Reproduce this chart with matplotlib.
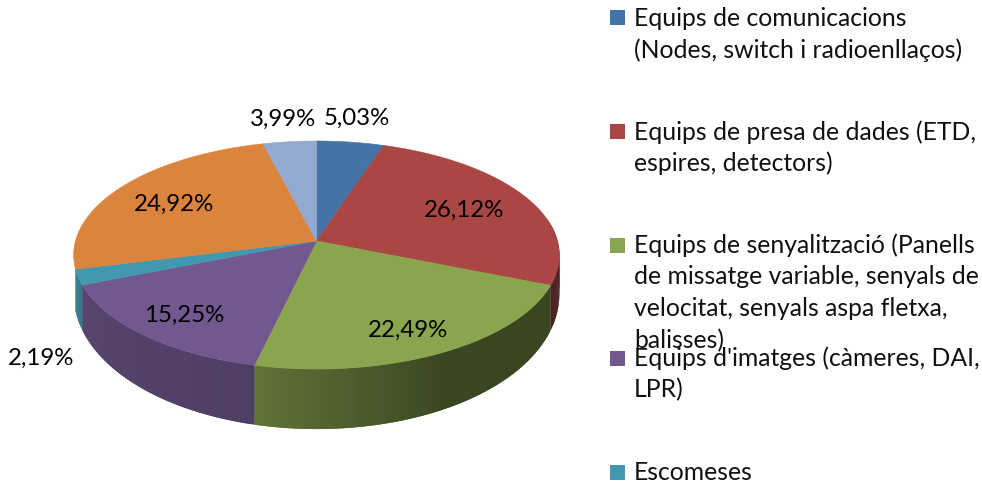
import numpy as np
import matplotlib
matplotlib.use('Agg')
import matplotlib.pyplot as plt
from matplotlib.collections import PolyCollection
from matplotlib.colors import to_rgb

plt.rcParams['font.family'] = ['Lato', 'DejaVu Sans']

# Values of the pie, clockwise from the top
values = [5.03, 26.12, 22.49, 15.25, 2.19, 24.92, 3.99]
colors = ['#4573a7', '#aa4644', '#89a54e', '#71588f', '#4198af', '#db843d', '#93a9cf']
label_x = [357, 464, 408, 184, 41, 174, 283]
label_y = [118, 210, 330, 315, 358, 204, 119]

# Legend lines, the original legend overflows its box so lines collide
legend_lines = [
    ['Equips de comunicacions', '(Nodes, switch i radioenllaços)'],
    ['Equips de presa de dades (ETD,', 'espires, detectors)'],
    ['Equips de senyalització (Panells', 'de missatge variable, senyals de',
     'velocitat, senyals aspa fletxa,', 'balisses)'],
    ["Equips d'imatges (càmeres, DAI,", 'LPR)'],
    ['Escomeses'],
]
legend_colors = colors[:5]
legend_y = [17, 131, 245, 358, 472]
line_y = [[18, 50], [132, 163], [245, 276, 309, 341], [358, 390], [472]]

# Perspective of the 3D pie, in pixels
cx, cy = 316.5, 241
bx, by, k = 241, 112.3, 0.123


def project(theta):
    # theta in degrees, clockwise from the top
    t = np.radians(theta)
    u, v = np.sin(t), np.cos(t)
    w = 1 + k * v
    return cx + bx * u / w, cy - by * v / w, v


def depth(v):
    return 36 - 24 * v


def shade(theta):
    return np.interp(theta, [90, 150, 193, 260, 290], [0.42, 0.42, 0.70, 0.80, 0.85])


fig = plt.figure(figsize=(9.82, 4.83), dpi=100)
ax = fig.add_axes([0, 0, 1, 1])
ax.set_xlim(0, 982)
ax.set_ylim(483, 0)
ax.axis('off')

edges = 3.6 * np.cumsum([0] + values) / sum(values) * 100

# Side wall, overlapping strips so no seams show in the gradient
polys, face = [], []
for i, col in enumerate(colors):
    if edges[i] > 250:  # orange and light blue walls are hidden
        continue
    th = np.r_[np.arange(edges[i], edges[i + 1], 0.5), edges[i + 1]]
    x, y, v = project(th)
    yb = y + depth(v)
    for j in range(len(th) - 1):
        if v[j] > 0.2:
            continue
        e = min(j + 2, len(th) - 1)
        polys.append([(x[j], y[j]), (x[e], y[e]), (x[e], yb[e]), (x[j], yb[j])])
        face.append(np.array(to_rgb(col)) * shade(th[j]))
ax.add_collection(PolyCollection(polys, facecolors=face, edgecolors='none'))

# Top face
for i, col in enumerate(colors):
    th = np.linspace(edges[i], edges[i + 1], 80)
    x, y, _ = project(th)
    ax.fill(np.r_[cx, x], np.r_[cy, y], color=col, lw=0.4)

for val, lx, ly in zip(values, label_x, label_y):
    txt = f'{val:.2f}'.replace('.', ',') + '%'
    ax.text(lx, ly, txt, fontsize=17.3, color='black', ha='center', va='center')

for lines, col, sy, ys in zip(legend_lines, legend_colors, legend_y, line_y):
    ax.fill([610, 625, 625, 610], [sy - 7.5, sy - 7.5, sy + 7.5, sy + 7.5], color=col, lw=0)
    for line, ly in zip(lines, ys):
        ax.text(634, ly, line, fontsize=17.8, color='#111111', ha='left', va='center')

fig.savefig('out.png', dpi=100)
